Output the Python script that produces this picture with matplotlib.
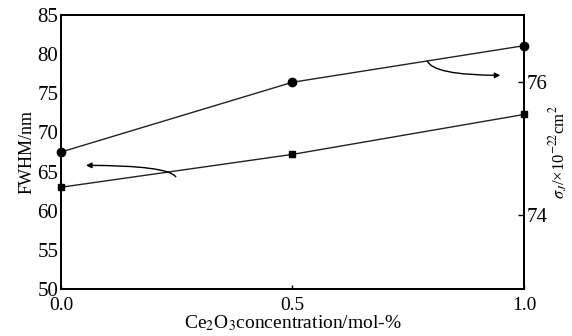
import matplotlib
matplotlib.use("Agg")
import matplotlib.pyplot as plt

plt.rcParams['font.family'] = ['Liberation Serif', 'DejaVu Serif']
plt.rcParams['mathtext.fontset'] = 'stix'

# data
conc = [0.0, 0.5, 1.0]
fwhm = [63.0, 67.2, 72.3]          # left axis, squares
sigma = [74.95, 76.0, 76.55]       # right axis, circles

fig = plt.figure(figsize=(5.72, 3.36), dpi=100)
ax = fig.add_axes([0.1066, 0.140, 0.8094, 0.815])
ax2 = ax.twinx()

ax.plot(conc, fwhm, color='#222222', lw=1.0, marker='s', ms=5, mfc='black', mec='black', clip_on=False, zorder=3)
ax2.plot(conc, sigma, color='#222222', lw=1.0, marker='o', ms=6, mfc='black', mec='black', clip_on=False, zorder=3)

ax.set_xlim(0, 1.0)
ax.set_ylim(50, 85)
ax2.set_ylim(72.89, 77.01)

ax.set_xticks([0.0, 0.5, 1.0])
ax.set_xticklabels(['0.0', '0.5', '1.0'])
ax.set_yticks(range(50, 86, 5))
ax2.set_yticks([74, 76])

ax.tick_params(axis='x', direction='in', length=3, width=1, labelsize=14, pad=6)
ax.tick_params(axis='y', length=0, labelsize=15, pad=2)
ax2.tick_params(axis='y', direction='in', length=4, width=1, labelsize=15, pad=2)
for a in (ax, ax2):
    for s in a.spines.values():
        s.set_linewidth(1.3)

ax.set_ylabel('FWHM/nm', fontsize=13, labelpad=1)
ax.set_xlabel(r'Ce$_2$O$_3$concentration/mol-%', fontsize=14, labelpad=-1)
ax2.set_ylabel(r'$\sigma_J$/×10$^{-22}$cm$^2$', fontsize=12, labelpad=0)

# curved arrows pointing to the axis each line belongs to
ax.annotate('', xy=(0.048, 65.8), xytext=(0.25, 64.0),
            arrowprops=dict(arrowstyle='-|>', color='black', lw=1.0,
                            connectionstyle='angle3,angleA=90,angleB=0', mutation_scale=8))
ax.annotate('', xy=(0.955, 77.3), xytext=(0.79, 79.5),
            arrowprops=dict(arrowstyle='-|>', color='black', lw=1.0,
                            connectionstyle='angle3,angleA=90,angleB=0', mutation_scale=8))

fig.savefig('out.png', dpi=100)
